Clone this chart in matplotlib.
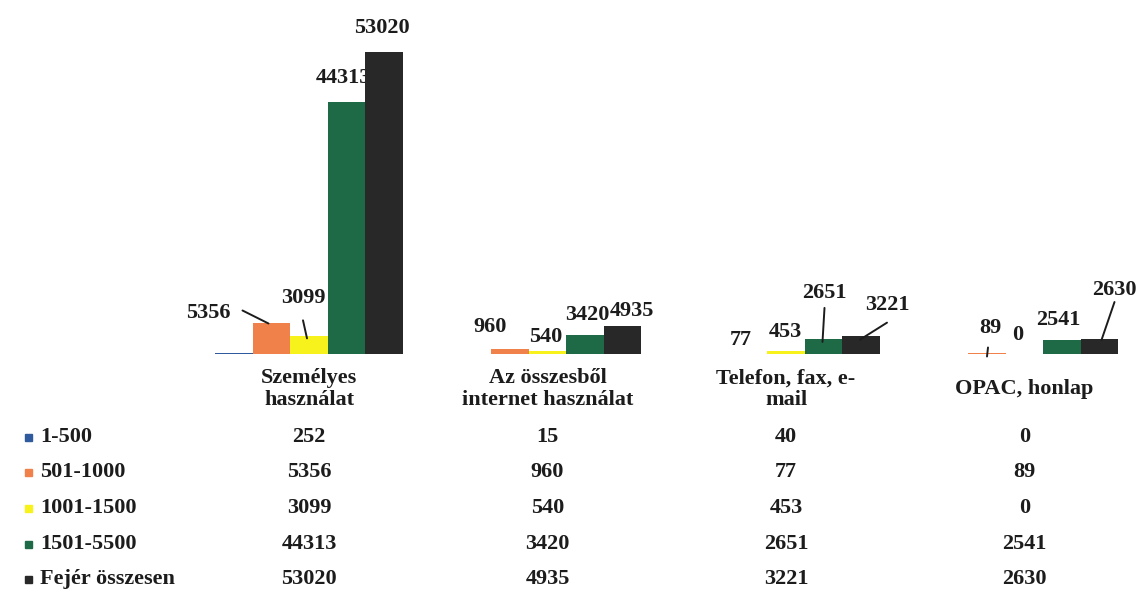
import matplotlib
matplotlib.use("Agg")
import matplotlib.pyplot as plt
from matplotlib.patches import Rectangle
from matplotlib.transforms import offset_copy, blended_transform_factory
import numpy as np

plt.rcParams['font.family'] = ['Liberation Serif', 'DejaVu Serif']
plt.rcParams['font.weight'] = 'bold'

categories = ['Személyes\nhasználat', 'Az összesből\ninternet használat',
              'Telefon, fax, e-\nmail', 'OPAC, honlap']
series = ['1-500', '501-1000', '1001-1500', '1501-5500', 'Fejér összesen']
v_1_500 = [252, 15, 40, 0]
v_501_1000 = [5356, 960, 77, 89]
v_1001_1500 = [3099, 540, 453, 0]
v_1501_5500 = [44313, 3420, 2651, 2541]
v_fejer = [53020, 4935, 3221, 2630]
values = [v_1_500, v_501_1000, v_1001_1500, v_1501_5500, v_fejer]
colors = ['#2f5b9e', '#f0814a', '#f7f21c', '#1e6a47', '#282828']

# label placement (pixel offsets from top centre of each bar)
label_off = {
    (1, 0): (-63, 10), (2, 0): (-6, 38), (3, 0): (-3, 24), (4, 0): (-2, 24),
    (1, 1): (-20, 22), (2, 1): (-2, 14), (3, 1): (2, 20), (4, 1): (9, 15),
    (1, 2): (-8, 14), (2, 2): (-1, 19), (3, 2): (1, 46), (4, 2): (26, 31),
    (1, 3): (3, 25), (2, 3): (-7, 19), (3, 3): (-4, 20), (4, 3): (15, 49),
}
leaders = {
    (1, 0): ((-29, 13), (-3, 0)),
    (2, 0): ((-6, 16), (-2, -2)),
    (3, 2): ((1, 31), (-1, -3)),
    (4, 2): ((26, 13), (-1, -4)),
    (1, 3): ((1, 6), (0, -3)),
    (4, 3): ((15, 37), (2, -1)),
}

W, H = 1144, 589
fig = plt.figure(figsize=(W / 100, H / 100), dpi=100)
fig.patch.set_facecolor('white')

base_px = 354
k = 302 / 53020  # pixels per unit
left_px, right_px = 189.75, 1143.75
ax = fig.add_axes([left_px / W, 1 - base_px / H, (right_px - left_px) / W, base_px / H])
ax.set_xlim(-0.5, 3.5)
ax.set_ylim(0, base_px / k)
ax.axis('off')

x = np.arange(len(categories))
bw = 37.5 / 238.5
txt_col = '#1c1c1c'
fs = 16

for j, vals in enumerate(values):
    xs = x + (j - 2) * bw
    ax.bar(xs, vals, width=bw, color=colors[j], zorder=3 if j == 4 else 1)
    for i, v in enumerate(vals):
        if (j, i) not in label_off:
            continue
        dx, dy = label_off[(j, i)]
        ax.annotate(str(v), xy=(xs[i], v), xytext=(dx, dy), textcoords='offset pixels',
                    ha='center', va='center', fontsize=fs, color=txt_col, zorder=2,
                    annotation_clip=False)
        if (j, i) in leaders:
            (sx, sy), (ex, ey) = leaders[(j, i)]
            ax.annotate('', xy=(xs[i], v),
                        xycoords=offset_copy(ax.transData, fig=fig, x=ex, y=ey, units='dots'),
                        xytext=(xs[i], v),
                        textcoords=offset_copy(ax.transData, fig=fig, x=sx, y=sy, units='dots'),
                        arrowprops=dict(arrowstyle='-', lw=1.4, color=txt_col,
                                        shrinkA=0, shrinkB=0),
                        annotation_clip=False)

# category labels
tr = blended_transform_factory(ax.transData, fig.transFigure)
for i, c in enumerate(categories):
    fig.text(x[i], 1 - 389 / H, c, transform=tr, ha='center', va='center',
             fontsize=fs, color=txt_col, linespacing=1.08)

# data table
row_y = [437, 472, 508, 544, 579]
for j, name in enumerate(series):
    yy = 1 - row_y[j] / H
    fig.add_artist(Rectangle((25 / W, 1 - (row_y[j] + 3.5) / H), 7 / W, 7 / H,
                             transform=fig.transFigure, color=colors[j]))
    fig.text(40 / W, yy, name, ha='left', va='center', fontsize=fs, color=txt_col)
    for i, v in enumerate(values[j]):
        fig.text(x[i], yy, str(v), transform=tr, ha='center', va='center',
                 fontsize=fs, color=txt_col)

fig.savefig('out.png', dpi=100)
